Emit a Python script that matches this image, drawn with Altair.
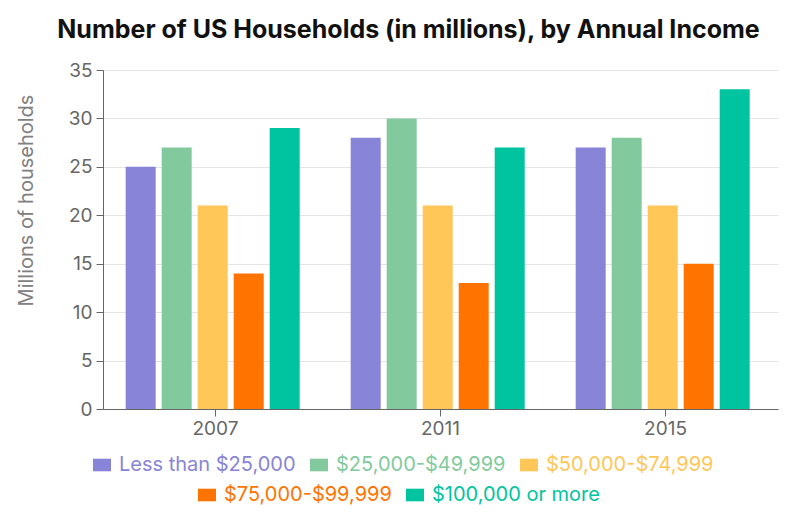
import altair as alt
import pandas as pd

years = ["2007", "2011", "2015"]
groups = [
    "Less than $25,000",
    "$25,000-$49,999",
    "$50,000-$74,999",
    "$75,000-$99,999",
    "$100,000 or more",
]
less_25k = [25, 28, 27]
from_25k = [27, 30, 28]
from_50k = [21, 21, 21]
from_75k = [14, 13, 15]
over_100k = [29, 27, 33]
colors = ["#8884d8", "#82ca9d", "#ffc658", "#ff7300", "#00c49f"]

series = [less_25k, from_25k, from_50k, from_75k, over_100k]
rows = [
    {"year": y, "group": g, "value": v}
    for g, vals in zip(groups, series)
    for y, v in zip(years, vals)
]
df = pd.DataFrame(rows)

FONT = "Inter"


def label_fill_expr(names, cols):
    expr = "'#666666'"
    for n, c in reversed(list(zip(names, cols))):
        expr = f"datum.value === '{n}' ? '{c}' : ({expr})"
    return expr


def legend_for(names, cols, lx, ly):
    return alt.Legend(
        title=None,
        orient="none",
        legendX=lx,
        legendY=ly,
        direction="horizontal",
        symbolType="M-1,-0.7H1V0.7H-1Z",
        symbolSize=324,
        symbolStrokeWidth=0,
        symbolOpacity=1,
        labelFontSize=20,
        labelFont=FONT,
        labelOffset=7,
        columnPadding=13,
        padding=0,
        labelLimit=400,
        labelColor=alt.ExprRef(expr=label_fill_expr(names, cols)),
    )


base = alt.Chart(df).encode(
    x=alt.X(
        "year:N",
        sort=years,
        scale=alt.Scale(paddingInner=0, paddingOuter=0),
        axis=alt.Axis(
            title=None,
            labelAngle=0,
            labelFontSize=19,
            labelFont=FONT,
            labelColor="#666666",
            labelPadding=3,
            tickColor="#666666",
            tickSize=7,
            domainColor="#666666",
            grid=False,
        ),
    ),
    xOffset=alt.XOffset(
        "group:N",
        sort=groups,
        scale=alt.Scale(domain=groups, paddingInner=1 / 6, paddingOuter=0.708, align=0.445),
    ),
    y=alt.Y(
        "value:Q",
        scale=alt.Scale(domain=[0, 35], nice=False),
        axis=alt.Axis(
            title="Millions of households",
            values=[0, 5, 10, 15, 20, 25, 30, 35],
            labelFontSize=19,
            labelFont=FONT,
            labelColor="#666666",
            labelPadding=4,
            tickColor="#666666",
            tickSize=7,
            domainColor="#666666",
            gridColor="#e5e5e5",
            titleFont=FONT,
            titleFontSize=20,
            titleFontWeight="normal",
            titleColor="#808080",
            titleAngle=-90,
            titleBaseline="middle",
            titleAlign="center",
            titleX=-77,
            titleY=130,
        ),
    ),
)

layer_a = base.transform_filter(
    alt.FieldOneOfPredicate(field="group", oneOf=groups[:3])
).mark_bar().encode(
    color=alt.Color(
        "group:N",
        scale=alt.Scale(domain=groups[:3], range=colors[:3]),
        legend=legend_for(groups[:3], colors[:3], -11, 385),
    )
)

layer_b = base.transform_filter(
    alt.FieldOneOfPredicate(field="group", oneOf=groups[3:])
).mark_bar().encode(
    color=alt.Color(
        "group:N",
        scale=alt.Scale(domain=groups[3:], range=colors[3:]),
        legend=legend_for(groups[3:], colors[3:], 94, 415),
    )
)

chart = (
    alt.layer(layer_a, layer_b)
    .resolve_scale(color="independent")
    .properties(
        width=675,
        height=339,
        padding={"left": 7, "top": 10, "right": 5, "bottom": 5},
        title=alt.TitleParams(
            text="Number of US Households (in millions), by Annual Income",
            font=FONT,
            fontSize=25,
            fontWeight="bold",
            color="#111111",
            anchor="middle",
            frame="group",
            dx=-32,
            offset=18,
        ),
    )
    .configure_view(stroke=None)
)

chart.save("out.html", embed_options={"renderer": "svg", "actions": False})
